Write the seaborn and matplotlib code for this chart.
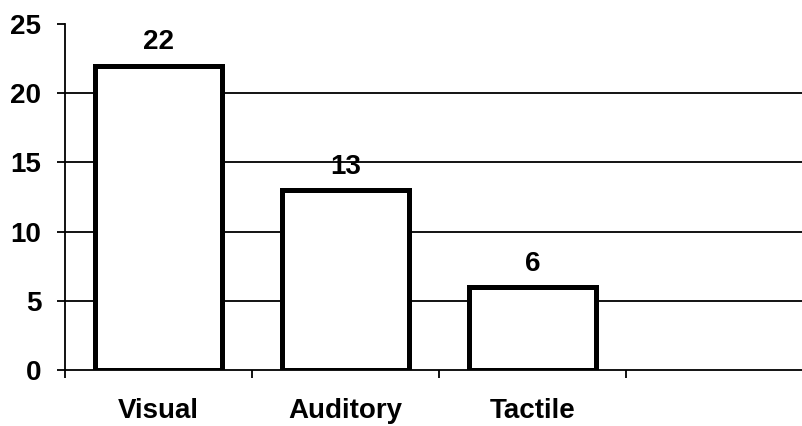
import matplotlib
matplotlib.use("Agg")
import matplotlib.pyplot as plt
import seaborn as sns
import pandas as pd

# Counts per sensory modality
modalities = ["Visual", "Auditory", "Tactile"]
counts = [22, 13, 6]
y_ticks = [0, 5, 10, 15, 20, 25]

df = pd.DataFrame({"modality": modalities, "count": counts})

sns.set_theme(style="white")
plt.rcParams["font.family"] = ["Liberation Sans", "DejaVu Sans"]
plt.rcParams["font.weight"] = "bold"
plt.rcParams["text.color"] = "black"
plt.rcParams["xtick.color"] = "black"
plt.rcParams["ytick.color"] = "black"
plt.rcParams["xtick.labelcolor"] = "black"
plt.rcParams["ytick.labelcolor"] = "black"

FS = 20

fig = plt.figure(figsize=(8.02, 4.26), dpi=100)
ax = fig.add_axes([65 / 802, 56 / 426, 1 - 65 / 802, 346 / 426])

sns.barplot(data=df, x="modality", y="count", ax=ax, color="white",
            edgecolor="black", linewidth=3.6, width=0.68, zorder=3)

for c in ax.containers:
    ax.bar_label(c, fmt="%d", padding=7.5, fontsize=FS, fontweight="bold",
                 color="black")

ax.set_ylim(y_ticks[0], y_ticks[-1])
ax.set_xlim(-0.5, 3.44)
ax.set_yticks(y_ticks)
ax.set_yticklabels([str(v) for v in y_ticks], fontsize=FS, fontweight="bold")

# category boundaries carry the tick marks, labels sit centred on each slot
ax.set_xticks([i - 0.5 for i in range(len(modalities) + 1)])
ax.set_xticklabels([])
ax.set_xticks(range(len(modalities)), minor=True)
ax.set_xticklabels(modalities, minor=True, fontsize=FS, fontweight="bold")
ax.tick_params(axis="x", which="major", direction="out", length=6, width=1.3,
               color="black", bottom=True)
ax.tick_params(axis="x", which="minor", length=0, pad=20.5, bottom=True)
ax.tick_params(axis="y", direction="out", length=6, width=1.3, color="black",
               pad=11, left=True)

ax.set_xlabel("")
ax.set_ylabel("")

ax.yaxis.grid(True, color="black", linewidth=1.3, zorder=0)
ax.set_axisbelow(True)
gl = ax.yaxis.get_gridlines()
gl[0].set_visible(False)
gl[-1].set_visible(False)

for s in ["top", "right"]:
    ax.spines[s].set_visible(False)
for s in ["left", "bottom"]:
    ax.spines[s].set_color("black")
    ax.spines[s].set_linewidth(1.3)

fig.savefig("out.png", dpi=100)
